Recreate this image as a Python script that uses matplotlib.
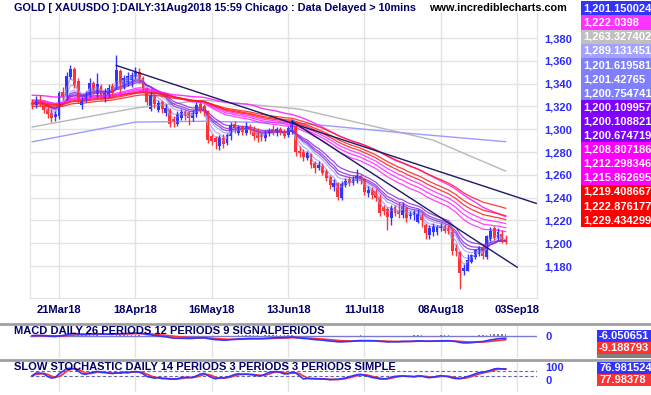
import numpy as np
import pandas as pd
import matplotlib
matplotlib.use("Agg")
import matplotlib.pyplot as plt
from matplotlib.patches import Rectangle
from matplotlib.lines import Line2D

plt.rcParams["font.family"] = ["Liberation Sans", "DejaVu Sans"]

# ---------------- data ----------------
dates = pd.bdate_range("2018-03-12", "2018-08-31")
opens = [1323,1321,1326,1324,1318,1314,1311,1312,1333,1328,1346,1353,1342,1321,1326,
         1330,1341,1331,1338,1327,1330,1338,1338,1351,1338,1341,1343,1346,1350,1345,1336,1318,1330,1317,1324,1314,
         1318,1309,1305,1310,1316,1315,1310,1313,1322,1320,1316,1294,1292,1285,1292,1288,1294,1305,1297,1302,1297,1302,1299,
         1298,1295,1292,1296,1300,1297,1300,1298,1295,1298,1303,1281,1280,1275,1278,1270,1266,1268,1263,1258,1249,
         1253,1240,1251,1256,1253,1255,1259,1256,1244,1247,1246,1241,1232,1230,1222,1232,1228,1225,1231,1224,1225,1219,
         1225,1216,1207,1210,1210,1213,1215,1213,1210,1196,1192,1176,1176,1184,1188,1191,1197,1188,1204,1213,1205,1208,1203]
highs = [1327,1329,1330,1326,1320,1318,1316,1334,1337,1350,1356,1355,1345,1328,1334,
         1345,1342,1349,1340,1336,1340,1341,1365,1353,1348,1350,1350,1355,1354,1347,1337,1333,1332,1326,1326,1322,
         1319,1312,1316,1318,1317,1316,1317,1324,1325,1322,1317,1296,1294,1295,1296,1297,1306,1307,1304,1304,1306,1305,1303,
         1301,1298,1299,1301,1304,1302,1302,1300,1303,1309,1305,1285,1283,1281,1279,1272,1272,1270,1265,1260,1256,
         1254,1255,1257,1259,1259,1265,1261,1257,1250,1249,1248,1243,1234,1232,1234,1234,1236,1236,1233,1228,1229,1230,
         1227,1218,1216,1218,1216,1218,1217,1216,1213,1199,1193,1182,1191,1191,1195,1198,1199,1207,1214,1215,1213,1212,1207]
lows = [1318,1319,1320,1314,1310,1306,1307,1309,1326,1326,1344,1336,1323,1318,1324,
        1328,1331,1328,1326,1324,1328,1329,1335,1333,1335,1338,1337,1344,1341,1334,1321,1316,1319,1315,1314,1312,
        1302,1302,1303,1308,1308,1304,1307,1311,1314,1312,1288,1286,1283,1282,1284,1286,1291,1297,1295,1295,1295,1296,1291,
        1289,1290,1290,1294,1295,1294,1295,1292,1293,1296,1277,1276,1272,1273,1266,1262,1264,1260,1255,1248,1246,
        1238,1238,1249,1250,1251,1253,1252,1242,1241,1239,1237,1224,1225,1212,1216,1224,1222,1222,1219,1221,1220,1218,
        1214,1204,1204,1206,1207,1211,1209,1208,1190,1189,1160,1172,1176,1183,1186,1189,1186,1186,1202,1203,1203,1200,1199]
closes = [1321,1326,1324,1317,1313,1310,1313,1332,1328,1347,1353,1339,1326,1325,1332,
          1341,1334,1340,1330,1332,1336,1332,1352,1340,1345,1347,1348,1350,1344,1336,1324,1330,1322,1323,1318,1319,
          1305,1306,1313,1315,1312,1310,1314,1321,1318,1315,1291,1290,1289,1293,1287,1295,1304,1301,1302,1298,1303,1299,1294,
          1292,1293,1297,1299,1297,1300,1297,1294,1301,1305,1280,1279,1276,1279,1269,1266,1269,1262,1257,1251,1253,
          1241,1252,1255,1253,1256,1259,1255,1245,1247,1242,1240,1227,1228,1223,1231,1227,1226,1233,1222,1224,1227,1226,
          1220,1209,1213,1215,1214,1215,1211,1211,1193,1193,1174,1178,1185,1190,1194,1197,1189,1206,1211,1205,1210,1203,1201.15]

# moving averages (GMMA): spans and starting levels read at the left edge
gmma_spans = [3, 5, 8, 10, 12, 15, 30, 35, 40, 45, 50, 60]
gmma_seeds = [1322, 1322, 1322, 1323, 1323, 1323, 1326, 1325, 1324, 1323, 1322, 1320]
gmma_colors = ["#a3a3ff", "#a3a3ff", "#a3a3ff", "#8a2be2", "#8a2be2", "#8a2be2",
               "#ff20ff", "#ff20ff", "#ff20ff", "#ff1a1a", "#ff1a1a", "#ff1a1a"]
# 50-bar simple average; level of the flat line at the left edge
sma_period = 50
sma_left_level = 1330

# long averages at some bars
gray_x = [0, 27, 45, 70, 105, 111, 124]
gray_y = [1302, 1318.6, 1325.6, 1317.7, 1290.5, 1281.8, 1263.3]
lblue_x = [0, 27, 45, 70, 95, 124]
lblue_y = [1289, 1306.3, 1307, 1305.4, 1297.5, 1289.1]

# trend lines (anchor bars, prices)
trend1_x = [22, 132]
trend1_y = [1356, 1235]
trend2_x = [68, 127]
trend2_y = [1307, 1179]

tick_pos = [7, 27, 47, 67, 87, 107, 127]
tick_labels = ["21Mar18", "18Apr18", "16May18", "13Jun18", "11Jul18", "08Aug18", "03Sep18"]
price_ticks = [1180, 1200, 1220, 1240, 1260, 1280, 1300, 1320, 1340, 1360, 1380]

legend_values = ["1,201.150024", "1,222.0398", "1,263.327402", "1,289.131451",
                 "1,201.619581", "1,201.42765", "1,200.754741",
                 "1,200.109957", "1,200.108821", "1,200.674719",
                 "1,208.807186", "1,212.298346", "1,215.862695",
                 "1,219.408667", "1,222.876177", "1,229.434299"]
legend_colors = ["#3333ff", "#ff33ff", "#c0c0c0", "#a3a3ff",
                 "#8080ff", "#8080ff", "#8080ff",
                 "#8000ff", "#8000ff", "#8000ff",
                 "#ff00ff", "#ff00ff", "#ff00ff",
                 "#ff0000", "#ff0000", "#ff0000"]
macd_values = ["-6.050651", "-9.188793", "3.138142"]
macd_colors = ["#3333ff", "#ff3333", "#808080"]
stoch_values = ["76.981524", "77.98378"]
stoch_colors = ["#3333ff", "#ff3333"]

# ---------------- figure ----------------
W, H = 651, 395
fig = plt.figure(figsize=(W / 100, H / 100), dpi=100)
fig.patch.set_facecolor("white")

def rect(x0, y0, x1, y1):
    return [x0 / W, 1 - y1 / H, (x1 - x0) / W, (y1 - y0) / H]

NAVY = "#000066"
BLUE = "#2b2bff"
GRID = "#e2e2e2"
FS = 8

o = np.array(opens, float); h = np.array(highs, float)
l = np.array(lows, float); c = np.array(closes, float)
idx = np.arange(len(c))
XL = (-0.6, 132.2)

ax = fig.add_axes(rect(30, 13, 537, 298))
ax.set_xlim(*XL)
ax.set_ylim(1152, 1402)
ax.set_xticks(tick_pos)
ax.set_xticklabels(tick_labels)
ax.set_yticks(price_ticks)
ax.set_yticklabels([f"{v:,}" for v in price_ticks])
ax.yaxis.tick_right()
ax.tick_params(axis="both", length=0, labelsize=FS)
ax.tick_params(axis="y", pad=5, labelcolor=BLUE)
ax.tick_params(axis="x", pad=5, labelcolor=NAVY)
for t in ax.get_xticklabels() + ax.get_yticklabels():
    t.set_fontweight("bold")
ax.grid(True, color=GRID, lw=1)
ax.set_axisbelow(True)
for sname in ["left", "bottom", "right"]:
    ax.spines[sname].set_color(GRID)
ax.spines["top"].set_visible(False)

# long averages
ax.plot(gray_x, gray_y, color="#b8b8b8", lw=1)
ax.plot(lblue_x, lblue_y, color="#9c9cff", lw=1)

s = pd.Series(c)
# 50-bar simple average
sma = pd.concat([pd.Series([sma_left_level] * (sma_period - 1), dtype=float), s],
                ignore_index=True).rolling(sma_period).mean().values[sma_period - 1:]
ax.plot(idx, sma, color="#ff33ff", lw=1)

# GMMA
for span, seed, col in zip(gmma_spans, gmma_seeds, gmma_colors):
    e = pd.concat([pd.Series([seed], dtype=float), s], ignore_index=True).ewm(span=span, adjust=False).mean().values[1:]
    ax.plot(idx, e, color=col, lw=0.9, alpha=0.85)

# candles
up = c >= o
cols = np.where(up, "#3333ff", "#ff3333")
ax.vlines(idx, l, h, colors=cols, lw=1)
body = np.maximum(np.abs(c - o), 1.0)
ax.bar(idx, body, bottom=np.minimum(o, c), width=0.75, color=cols, linewidth=0)

# trend lines
ax.plot(trend1_x, trend1_y, color="#1a1a66", lw=1)
ax.plot(trend2_x, trend2_y, color="#1a1a66", lw=1)

# titles
fig.text(14 / W, 1 - 8 / H, "GOLD [ XAUUSDO ]:DAILY:31Aug2018 15:59 Chicago : Data Delayed > 10mins",
         fontsize=7.8, fontweight="bold", color=NAVY, va="center", ha="left")
fig.text(429 / W, 1 - 8 / H, "www.incrediblecharts.com", fontsize=7.8, fontweight="bold",
         color="black", va="center", ha="left")

# legend boxes
for k, (v, col) in enumerate(zip(legend_values, legend_colors)):
    y0 = 1.3 + k * 14.1
    fig.add_artist(Rectangle((581 / W, 1 - (y0 + 14.1) / H), 70 / W, 14.1 / H,
                             transform=fig.transFigure, color=col, lw=0))
    fig.text(583.5 / W, 1 - (y0 + 7.3) / H, v, fontsize=FS, fontweight="bold", color="white",
             va="center", ha="left")

# separators
for yy in (323.5, 359.5):
    fig.add_artist(Line2D([0, 1], [1 - yy / H] * 2, color="#a0a0a0", lw=2, transform=fig.transFigure))

# ---------------- MACD ----------------
axm = fig.add_axes(rect(30, 325, 537, 358))
e12 = s.ewm(span=12, adjust=False).mean()
e26 = s.ewm(span=26, adjust=False).mean()
macd = (e12 - e26).values
sig = pd.Series(macd).ewm(span=9, adjust=False).mean().values
hist = macd - sig
axm.set_xlim(*XL)
axm.set_ylim(-50, 24)
axm.bar(idx, np.where(hist > 0, hist, 0), width=0.4, color="#808080", lw=0)
axm.axhline(0, color="#7a7acc", lw=1)
axm.plot(idx, sig, color="#ff3333", lw=1.2)
axm.plot(idx, macd, color="#3333ff", lw=1.2)
axm.set_xticks(tick_pos)
axm.set_xticklabels([])
axm.set_yticks([0])
axm.set_yticklabels(["0"])
axm.yaxis.tick_right()
axm.tick_params(axis="both", length=0, labelsize=FS, pad=6, labelcolor=BLUE)
for t in axm.get_yticklabels():
    t.set_fontweight("bold")
axm.grid(True, axis="x", color=GRID, lw=1)
axm.set_axisbelow(True)
for sp in axm.spines.values():
    sp.set_visible(False)
fig.text(14 / W, 1 - 330.5 / H, "MACD DAILY 26 PERIODS 12 PERIODS 9 SIGNALPERIODS",
         fontsize=FS, fontweight="bold", color=NAVY, va="center", ha="left")
for k, (v, col) in enumerate(zip(macd_values, macd_colors)):
    y0 = 330 + k * 12
    y1 = min(y0 + 12, 358)
    fig.add_artist(Rectangle((597 / W, 1 - y1 / H), 54 / W, (y1 - y0) / H,
                             transform=fig.transFigure, color=col, lw=0))
    if k < 2:
        fig.text(599 / W, 1 - (y0 + 6) / H, v, fontsize=FS, fontweight="bold", color="white",
                 va="center", ha="left")

# ---------------- Stochastic ----------------
axs = fig.add_axes(rect(30, 361, 537, 392))
hh = pd.Series(h).rolling(14, min_periods=1).max()
ll = pd.Series(l).rolling(14, min_periods=1).min()
rawk = (s - ll) / (hh - ll) * 100
slowk = rawk.rolling(3, min_periods=1).mean()
slowd = slowk.rolling(3, min_periods=1).mean()
axs.set_xlim(*XL)
axs.set_ylim(-85, 140)
axs.axhline(70, color="#6666aa", lw=0.8, ls=(0, (3, 2)))
axs.axhline(30, color="#6666aa", lw=0.8, ls=(0, (3, 2)))
axs.plot(idx, slowd, color="#ff3333", lw=1.2)
axs.plot(idx, slowk, color="#3333ff", lw=1.2)
axs.set_xticks(tick_pos)
axs.set_xticklabels([])
axs.set_yticks([0, 100])
axs.set_yticklabels(["0", "100"])
axs.yaxis.tick_right()
axs.tick_params(axis="both", length=0, labelsize=FS, pad=6, labelcolor=BLUE)
for t in axs.get_yticklabels():
    t.set_fontweight("bold")
axs.grid(True, axis="x", color=GRID, lw=1)
axs.set_axisbelow(True)
for sp in axs.spines.values():
    sp.set_visible(False)
fig.text(14 / W, 1 - 367 / H, "SLOW STOCHASTIC DAILY 14 PERIODS 3 PERIODS 3 PERIODS SIMPLE",
         fontsize=FS, fontweight="bold", color=NAVY, va="center", ha="left")
for k, (v, col) in enumerate(zip(stoch_values, stoch_colors)):
    y0 = 362 + k * 12
    fig.add_artist(Rectangle((597 / W, 1 - (y0 + 12) / H), 54 / W, 12 / H,
                             transform=fig.transFigure, color=col, lw=0))
    fig.text(599 / W, 1 - (y0 + 6) / H, v, fontsize=FS, fontweight="bold", color="white",
             va="center", ha="left")

fig.savefig("out.png", dpi=100)
